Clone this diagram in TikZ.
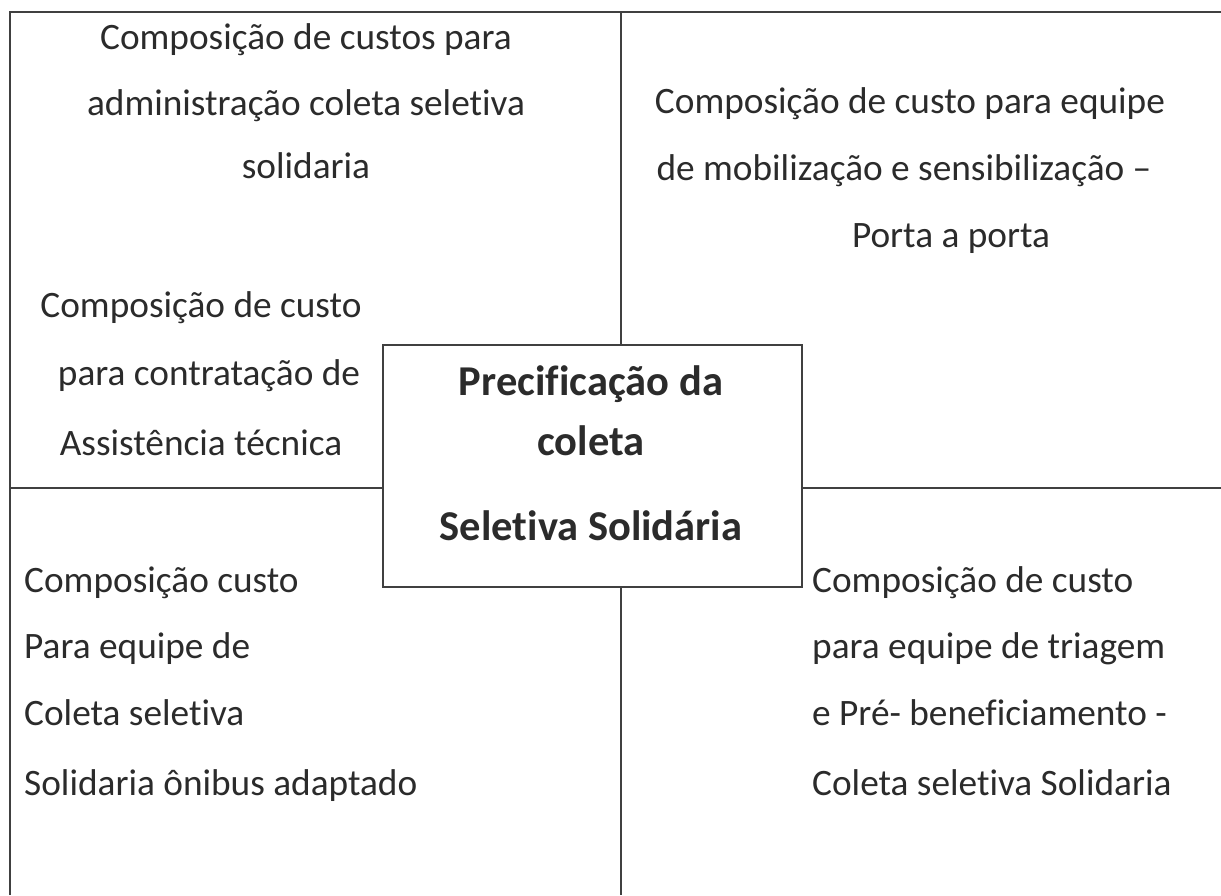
\documentclass[tikz,border=0pt]{standalone}
\usepackage{fontspec}
\setmainfont{Carlito}[Ligatures=NoCommon]
\definecolor{ink}{HTML}{2B2B2B}
\definecolor{rule}{HTML}{404040}
\tikzset{
  txt/.style={inner sep=0pt, text=ink, font=\fontsize{37.3pt}{44pt}\selectfont},
  btxt/.style={inner sep=0pt, text=ink, font=\fontsize{42.5pt}{50pt}\selectfont\bfseries},
  gridline/.style={draw=rule, line width=1.7pt},
  centerbox/.style={draw=rule, line width=1.7pt, fill=white, rectangle, inner sep=0pt}
}
\begin{document}
\begin{tikzpicture}[x=1pt,y=-1pt]
\useasboundingbox (0,0) rectangle (1221,895);
\fill[white] (0,0) rectangle (1221,895);
% grid
\coordinate (tl) at (10,12);
\coordinate (tr) at (1221,12);
\coordinate (bl) at (10,895);
\coordinate (mt) at (621,12);
\coordinate (mb) at (621,895);
\coordinate (ml) at (10,488);
\coordinate (mr) at (1221,488);
\draw[gridline] (bl) -- (tl) -- (tr);
\draw[gridline] (mt) -- (mb);
\draw[gridline] (ml) -- (mr);
% central box
\node[centerbox, minimum width=419pt, minimum height=242pt] (box) at (592.5,466) {};
\node[btxt, anchor=base] (c1) at (591,395) {Precificação da};
\node[btxt, anchor=base] (c2) at (591,455) {coleta};
\node[btxt, anchor=base] (c3) at (591,540) {Seletiva Solidária};
% top left
\node[txt, anchor=base] (a1) at (306,49) {Composição de custos para};
\node[txt, anchor=base] (a2) at (306,115) {administração coleta seletiva};
\node[txt, anchor=base] (a3) at (306,178) {solidaria};
\node[txt, anchor=base] (b1) at (201,317) {Composição de custo};
\node[txt, anchor=base] (b2) at (209,385) {para contratação de};
\node[txt, anchor=base] (b3) at (201,455) {Assistência técnica};
% top right
\node[txt, anchor=base] (d1) at (910,113) {Composição de custo para equipe};
\node[txt, anchor=base] (d2) at (904,180) {de mobilização e sensibilização –};
\node[txt, anchor=base] (d3) at (951,247) {Porta a porta};
% bottom left
\node[txt, anchor=base west] (e1) at (24,592) {Composição custo};
\node[txt, anchor=base west] (e2) at (24,658) {Para equipe de};
\node[txt, anchor=base west] (e3) at (24,725) {Coleta seletiva};
\node[txt, anchor=base west] (e4) at (24,795) {Solidaria ônibus adaptado};
% bottom right
\node[txt, anchor=base west] (f1) at (812,592) {Composição de custo};
\node[txt, anchor=base west] (f2) at (812,658) {para equipe de triagem};
\node[txt, anchor=base west] (f3) at (812,725) {e Pré- beneficiamento -};
\node[txt, anchor=base west] (f4) at (812,795) {Coleta seletiva Solidaria};
\end{tikzpicture}
\end{document}
